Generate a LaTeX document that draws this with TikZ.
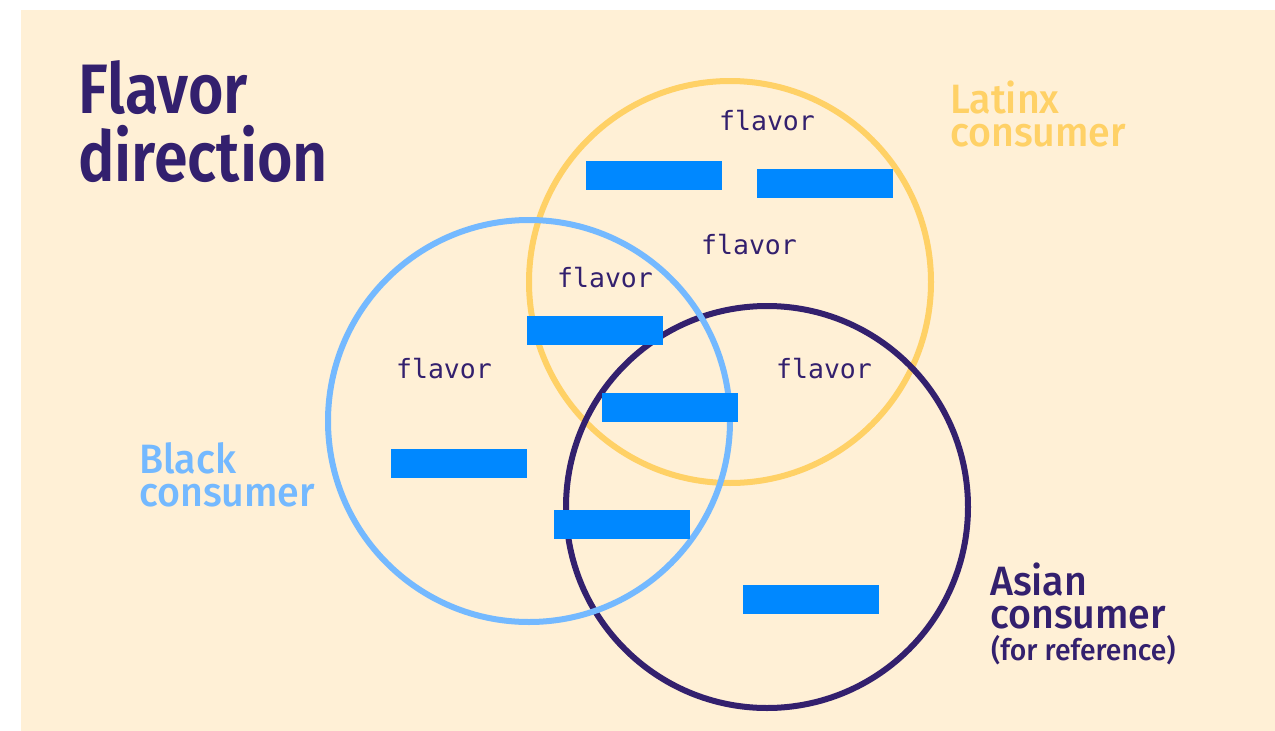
\documentclass[tikz,border=0pt]{standalone}
\usepackage{fontspec}
\newfontfamily\dinfont{Fira Sans Medium}[FakeStretch=0.96]
\newfontfamily\dintitle{Fira Sans SemiBold}[FakeStretch=0.87]
\newfontfamily\monofont{DejaVu Sans Mono}
\definecolor{paper}{HTML}{FFF0D6}
\definecolor{ink}{HTML}{33206E}
\definecolor{latinx}{HTML}{FFD166}
\definecolor{black}{HTML}{74B9FF}
\definecolor{masked}{HTML}{0088FF}
\tikzset{
  ring/.style={draw=#1, line width=6pt, fill=none},
  redact/.style={fill=masked, draw=none, minimum width=136pt, minimum height=29pt, inner sep=0pt},
  flav/.style={text=ink, font=\monofont\fontsize{26.5}{26.5}\selectfont, inner sep=0pt, anchor=base},
  label/.style={font=\dinfont\fontsize{41}{32.5}\selectfont, align=left, anchor=base west, inner sep=0pt},
}
\begin{document}
\begin{tikzpicture}[x=1pt,y=-1pt]
  \useasboundingbox (0,0) rectangle (1275,731);
  \fill[white] (0,0) rectangle (1275,731);
  \fill[paper] (21,10) rectangle (1275,731);

  % title (anchored on the baseline of its last line)
  \node[font=\dintitle\fontsize{70}{68}\selectfont, text=ink, anchor=base west, inner sep=0pt, align=left] (title) at (78,181) {Flavor\\direction};

  % the three consumer circles
  \node[ring=latinx, circle, minimum size=402pt, inner sep=0pt] (clat) at (730,282) {};
  \node[ring=ink, circle, minimum size=402pt, inner sep=0pt] (casn) at (767,507) {};
  \node[ring=black, circle, minimum size=402pt, inner sep=0pt] (cblk) at (529,421) {};

  % circle labels (anchored on the baseline of their last line)
  \node[label, text=latinx] (llat) at (950,146) {Latinx\\consumer};
  \node[label, text=black] (lblk) at (139,506) {Black\\consumer};
  \node[label, text=ink] (lasn) at (990,628) {Asian\\consumer};
  \node[font=\dinfont\fontsize{29.5}{29.5}\selectfont, text=ink, anchor=base west, inner sep=0pt] (lref) at (991,660) {(for reference)};

  % flavor words
  \node[flav] (f1) at (767,130) {flavor};
  \node[flav] (f2) at (749,254) {flavor};
  \node[flav] (f3) at (605,287) {flavor};
  \node[flav] (f4) at (444,378) {flavor};
  \node[flav] (f5) at (824,378) {flavor};

  % redacted entries
  \node[redact] (r1) at (654,175.5) {};
  \node[redact] (r2) at (825,183.5) {};
  \node[redact] (r3) at (595,330.5) {};
  \node[redact] (r4) at (670,407.5) {};
  \node[redact] (r5) at (459,463.5) {};
  \node[redact] (r6) at (622,524.5) {};
  \node[redact] (r7) at (811,599.5) {};
\end{tikzpicture}
\end{document}
